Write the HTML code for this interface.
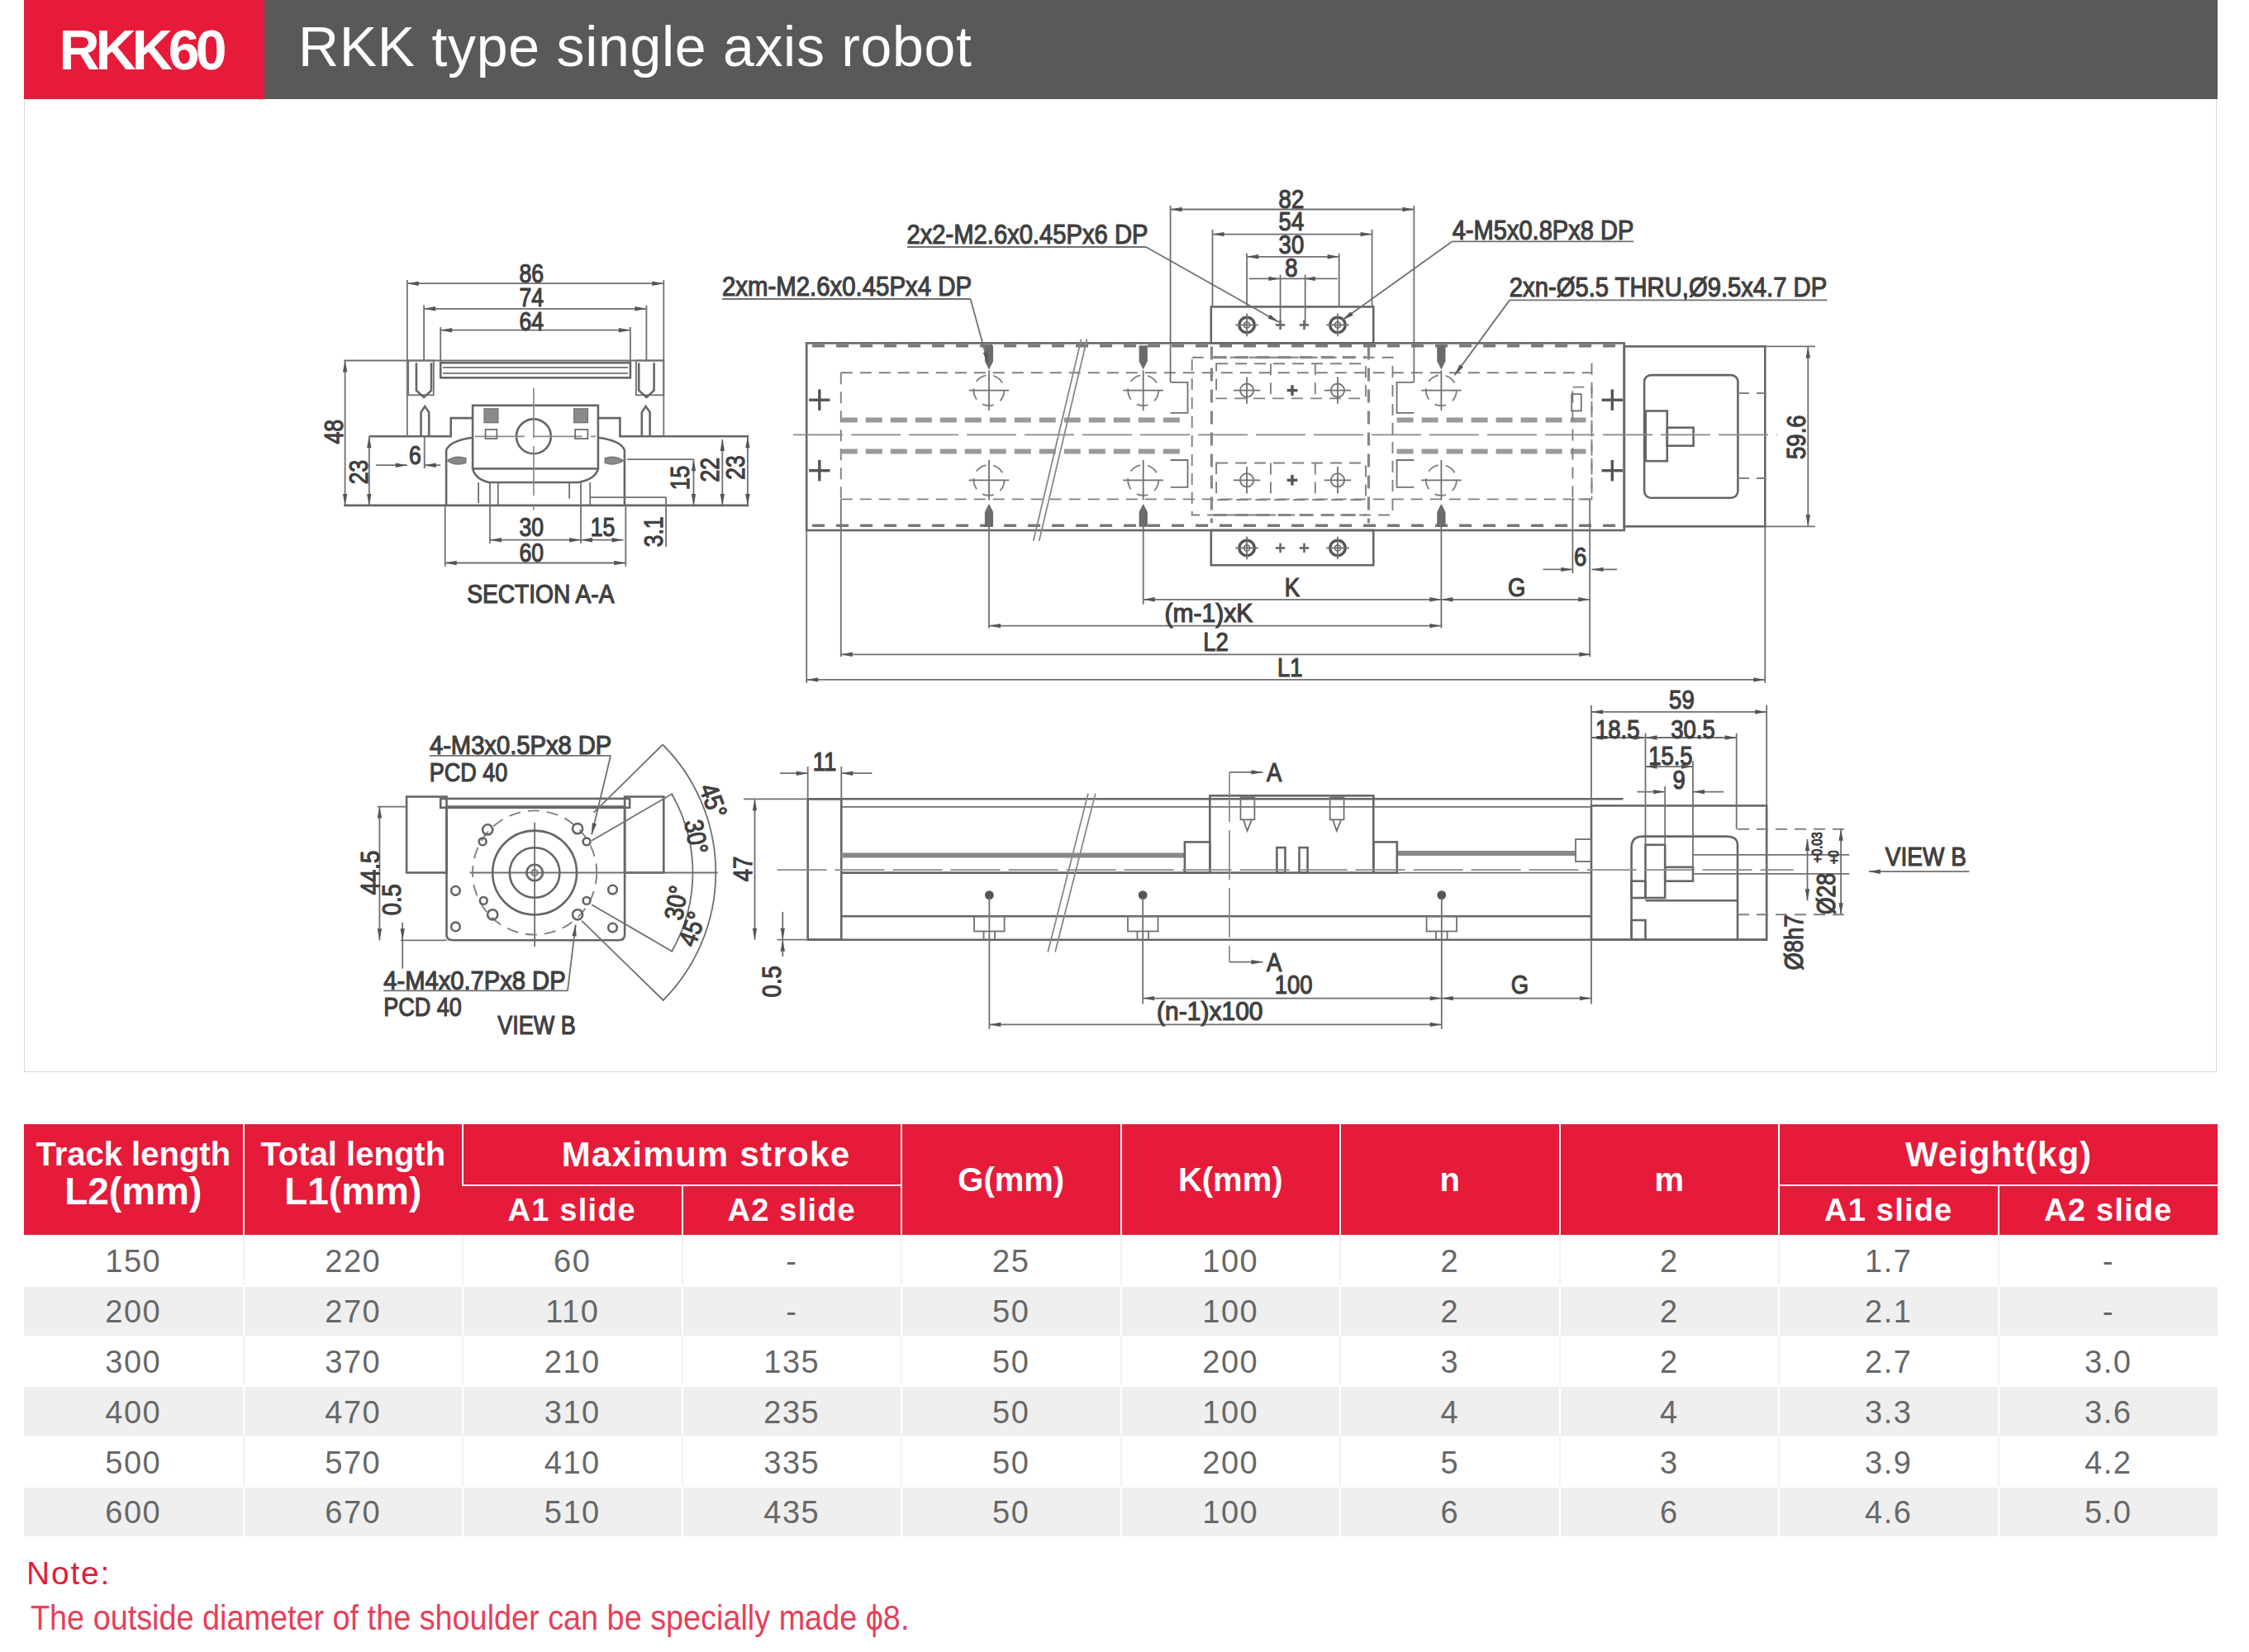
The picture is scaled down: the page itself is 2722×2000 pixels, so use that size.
<!DOCTYPE html>
<html><head><meta charset="utf-8">
<style>
html,body{margin:0;padding:0;background:#fff;}
body{width:2722px;height:2000px;position:relative;overflow:hidden;font-family:"Liberation Sans",sans-serif;}
.abs{position:absolute;}
#hdr-red{left:29px;top:0;width:291px;height:120px;background:#e61b3a;}
#hdr-gray{left:320px;top:0;width:2364px;height:120px;background:#5a5859;}
#t1{left:-4px;top:0;width:291px;height:120px;color:#fff;font-weight:bold;font-size:68px;line-height:120px;text-align:center;letter-spacing:-5px;}
#t2{left:41px;top:0;height:120px;color:#fff;font-size:68px;line-height:112px;white-space:nowrap;letter-spacing:0.7px;}
#panel{left:29px;top:120px;width:2652px;height:1177px;border:1px solid #d9d9d9;border-top:none;box-sizing:content-box;}
#drw{left:0;top:0;}
table{position:absolute;left:29px;top:1361px;border-collapse:collapse;table-layout:fixed;width:2655px;}
td,th{padding:0;text-align:center;}
th{background:#e61b3a;color:#fff;font-weight:bold;border-left:2px solid #fff;}
th:first-child{border-left:none;}
tr.h1 th{height:73px;font-size:40px;}
th.ms{font-size:42px !important;letter-spacing:1.3px;padding-left:58px !important;}
tr.h2 th{height:59px;font-size:38px;border-top:2px solid #fff;letter-spacing:1.2px;}
th.r2{line-height:40px;font-size:40px !important;letter-spacing:0 !important;padding-bottom:12px !important;}
td{height:60.8px;font-size:38px;color:#676767;letter-spacing:1.5px;padding-top:5px;box-sizing:border-box;border-left:2px solid #f2f2f2;}
td:first-child{border-left:none;}
tr.g td{background:#efefef;border-left-color:#fff;box-shadow:inset 0 2px 0 #fff;}
#note1{left:32px;top:1880px;font-size:39px;letter-spacing:1.8px;color:#e11d3a;line-height:50px;}
#note2{left:37px;top:1934px;font-size:42px;color:#e5405a;line-height:50px;white-space:nowrap;transform:scaleX(0.90);transform-origin:0 0;}
svg .m{stroke:#666;stroke-width:2.6;fill:none;}
svg .m3{stroke:#555;stroke-width:3.4;fill:none;}
svg .n{stroke:#707070;stroke-width:1.8;fill:none;}
svg .d{stroke:#808080;stroke-width:1.9;fill:none;stroke-dasharray:14 9;}
svg .dd{stroke:#888;stroke-width:3.2;fill:none;stroke-dasharray:16 10;}
svg .de{stroke:#777;stroke-width:3.6;fill:none;stroke-dasharray:15 14;}
svg .dr{stroke:#9a9a9a;stroke-width:6;fill:none;stroke-dasharray:20 10;}
svg .scr{stroke:#888;stroke-width:6;fill:none;}
svg .fillg{fill:#8a8a8a;stroke:#777;stroke-width:1.5;}
svg .brk{stroke:#888;stroke-width:1.8;fill:none;}
svg .pin{fill:#6a6a6a;stroke:#6a6a6a;stroke-width:1;}
svg .c{stroke:#8a8a8a;stroke-width:1.7;fill:none;stroke-dasharray:60 10;}
svg .ah{fill:#555;stroke:none;}
svg .tx{fill:#404040;stroke:#404040;stroke-width:1.2;font-family:"Liberation Sans",sans-serif;font-weight:normal;}
svg .dot{fill:#555;stroke:none;}
</style></head>
<body>
<div class="abs" id="hdr-red"><div class="abs" id="t1">RKK60</div></div>
<div class="abs" id="hdr-gray"><div class="abs" id="t2">RKK type single axis robot</div></div>
<div class="abs" id="panel"></div>
<svg class="abs" id="drw" width="2722" height="1300" viewBox="0 0 2722 1300">
<rect class="m" x="533.2" y="439.2" width="229.7" height="18.1"/>
<line class="n" x1="535.9" y1="444.8" x2="760.1" y2="444.8"/>
<line class="n" x1="535.9" y1="451.8" x2="760.1" y2="451.8"/>
<line class="n" x1="416.2" y1="436.5" x2="803.3" y2="436.5"/>
<rect class="n" x="494.2" y="436.5" width="30.6" height="41.8"/>
<path class="m" d="M503.9,439.2 L503.9,472.7 L513.1,481 L522,472.7 L522,439.2"/>
<rect class="n" x="769.9" y="436.5" width="33.4" height="41.8"/>
<path class="m" d="M773.2,439.2 L773.2,472.7 L782.4,481 L791.6,472.7 L791.6,439.2"/>
<path class="m" d="M509.5,528.3 L509.5,499.1 L514.2,492.1 L519.2,499.1 L519.2,528.3"/>
<path class="m" d="M776.8,528.3 L776.8,499.1 L781.6,492.1 L786.6,499.1 L786.6,528.3"/>
<path class="m" d="M446.8,528.3 L545.7,528.3 L545.7,506.1 L572.1,506.1"/>
<path class="m" d="M723.9,506.1 L750.4,506.1 L750.4,528.3 L906.3,528.3"/>
<rect class="m" x="572.1" y="490.8" width="151.8" height="76.6"/>
<path class="m" d="M 540.1,611.9 L 540.1,545.1 Q 544.3,533.4 572.1,529.7"/>
<path class="m" d="M 755.9,611.9 L 755.9,545.1 Q 751.8,533.4 723.9,529.7"/>
<path class="m" d="M 572.1,567.3 Q 574.9,579.9 591.6,584 L 700.2,584 Q 721.1,579.9 723.9,567.3"/>
<line class="n" x1="579.1" y1="584" x2="579.1" y2="609.1"/>
<line class="n" x1="602.8" y1="584" x2="602.8" y2="611.9"/>
<line class="n" x1="689.1" y1="584" x2="689.1" y2="603.5"/>
<line class="n" x1="714.2" y1="584" x2="714.2" y2="611.9"/>
<line class="n" x1="714.2" y1="602.1" x2="806.1" y2="602.1"/>
<line class="n" x1="758.7" y1="556.2" x2="839.5" y2="556.2"/>
<line class="m" x1="416.2" y1="611.9" x2="906.3" y2="611.9"/>
<circle class="m" cx="645.9" cy="528.3" r="20.9"/>
<line class="c" x1="645.9" y1="469.9" x2="645.9" y2="617.5"/>
<line class="c" x1="574.9" y1="528.3" x2="721.1" y2="528.3"/>
<rect class="fillg" x="586.1" y="494.9" width="16.7" height="16.7"/>
<rect class="n" x="587.5" y="520" width="13.9" height="11.1"/>
<rect class="fillg" x="694.7" y="494.9" width="16.7" height="16.7"/>
<rect class="n" x="696.1" y="520" width="15.3" height="11.1"/>
<path class="fillg" d="M 541.5,557.6 Q 551.3,550.6 563.8,554.8 L 563.8,560.4 Q 551.3,564.6 541.5,557.6"/>
<path class="fillg" d="M 754.5,557.6 Q 743.4,550.6 732.3,554.8 L 732.3,560.4 Q 743.4,564.6 754.5,557.6"/>
<line class="n" x1="492.8" y1="343.2" x2="803.3" y2="343.2"/>
<path class="ah" d="M492.8,343.2 L506.8,340.5 L506.8,345.9 Z"/>
<path class="ah" d="M803.3,343.2 L789.3,345.9 L789.3,340.5 Z"/>
<line class="n" x1="492.8" y1="339" x2="492.8" y2="528.3"/>
<line class="n" x1="803.3" y1="339" x2="803.3" y2="528.3"/>
<line class="n" x1="513.1" y1="373.8" x2="782.4" y2="373.8"/>
<path class="ah" d="M513.1,373.8 L527.1,371.1 L527.1,376.5 Z"/>
<path class="ah" d="M782.4,373.8 L768.4,376.5 L768.4,371.1 Z"/>
<line class="n" x1="513.1" y1="369.6" x2="513.1" y2="436.5"/>
<line class="n" x1="782.4" y1="369.6" x2="782.4" y2="436.5"/>
<line class="n" x1="533.2" y1="399.7" x2="762.9" y2="399.7"/>
<path class="ah" d="M533.2,399.7 L547.2,397 L547.2,402.4 Z"/>
<path class="ah" d="M762.9,399.7 L748.9,402.4 L748.9,397 Z"/>
<line class="n" x1="533.2" y1="396.1" x2="533.2" y2="439.2"/>
<line class="n" x1="762.9" y1="396.1" x2="762.9" y2="439.2"/>
<line class="n" x1="417.6" y1="436.5" x2="417.6" y2="611.9"/>
<path class="ah" d="M417.6,436.5 L420.3,450.5 L414.9,450.5 Z"/>
<path class="ah" d="M417.6,611.9 L414.9,597.9 L420.3,597.9 Z"/>
<line class="n" x1="446.8" y1="528.3" x2="446.8" y2="611.9"/>
<path class="ah" d="M446.8,528.3 L449.5,542.3 L444.1,542.3 Z"/>
<path class="ah" d="M446.8,611.9 L444.1,597.9 L449.5,597.9 Z"/>
<line class="n" x1="455.2" y1="563.2" x2="492.8" y2="563.2"/>
<path class="ah" d="M492.8,563.2 L478.8,565.9 L478.8,560.5 Z"/>
<line class="n" x1="533.2" y1="563.2" x2="513.7" y2="563.2"/>
<path class="ah" d="M513.7,563.2 L527.7,560.5 L527.7,565.9 Z"/>
<line class="n" x1="513.7" y1="528.3" x2="513.7" y2="567.3"/>
<line class="n" x1="839.5" y1="556.2" x2="839.5" y2="611.9"/>
<path class="ah" d="M839.5,556.2 L842.2,570.2 L836.8,570.2 Z"/>
<path class="ah" d="M839.5,611.9 L836.8,597.9 L842.2,597.9 Z"/>
<line class="n" x1="874.3" y1="532" x2="874.3" y2="611.9"/>
<path class="ah" d="M874.3,532 L877,546 L871.6,546 Z"/>
<path class="ah" d="M874.3,611.9 L871.6,597.9 L877,597.9 Z"/>
<line class="n" x1="904.9" y1="528.3" x2="904.9" y2="611.9"/>
<path class="ah" d="M904.9,528.3 L907.6,542.3 L902.2,542.3 Z"/>
<path class="ah" d="M904.9,611.9 L902.2,597.9 L907.6,597.9 Z"/>
<line class="n" x1="806.1" y1="602.1" x2="806.1" y2="662"/>
<line class="n" x1="593" y1="653.7" x2="703" y2="653.7"/>
<path class="ah" d="M593,653.7 L607,651 L607,656.4 Z"/>
<path class="ah" d="M703,653.7 L689,656.4 L689,651 Z"/>
<line class="n" x1="593" y1="584" x2="593" y2="657.8"/>
<line class="n" x1="703" y1="584" x2="703" y2="657.8"/>
<line class="n" x1="703" y1="653.7" x2="754.5" y2="653.7"/>
<path class="ah" d="M703,653.7 L717,651 L717,656.4 Z"/>
<path class="ah" d="M754.5,653.7 L740.5,656.4 L740.5,651 Z"/>
<line class="n" x1="538.7" y1="681.5" x2="757.3" y2="681.5"/>
<path class="ah" d="M538.7,681.5 L552.7,678.8 L552.7,684.2 Z"/>
<path class="ah" d="M757.3,681.5 L743.3,684.2 L743.3,678.8 Z"/>
<line class="n" x1="538.7" y1="611.9" x2="538.7" y2="685.7"/>
<line class="n" x1="757.3" y1="611.9" x2="757.3" y2="685.7"/>
<text class="tx" x="0" y="11" font-size="30.5" text-anchor="middle" transform="translate(643.2 330.6) scale(0.87 1)">86</text>
<text class="tx" x="0" y="11" font-size="30.5" text-anchor="middle" transform="translate(643.2 359.9) scale(0.87 1)">74</text>
<text class="tx" x="0" y="11" font-size="30.5" text-anchor="middle" transform="translate(643.2 388.6) scale(0.87 1)">64</text>
<text class="tx" x="0" y="11" font-size="30.5" text-anchor="middle" transform="translate(643.2 638.3) scale(0.87 1)">30</text>
<text class="tx" x="0" y="11" font-size="30.5" text-anchor="middle" transform="translate(729.5 638.3) scale(0.87 1)">15</text>
<text class="tx" x="0" y="11" font-size="30.5" text-anchor="middle" transform="translate(643.2 669) scale(0.87 1)">60</text>
<text class="tx" x="0" y="11" font-size="30.5" text-anchor="middle" transform="translate(502.5 550.6) scale(0.87 1)">6</text>
<text class="tx" x="0" y="11" font-size="30.5" text-anchor="middle" transform="translate(403.7 522.8) rotate(-90) scale(0.87 1)">48</text>
<text class="tx" x="0" y="11" font-size="30.5" text-anchor="middle" transform="translate(434.3 571.5) rotate(-90) scale(0.87 1)">23</text>
<text class="tx" x="0" y="11" font-size="30.5" text-anchor="middle" transform="translate(822.8 578.5) rotate(-90) scale(0.87 1)">15</text>
<text class="tx" x="0" y="11" font-size="30.5" text-anchor="middle" transform="translate(859 568.7) rotate(-90) scale(0.87 1)">22</text>
<text class="tx" x="0" y="11" font-size="30.5" text-anchor="middle" transform="translate(889.6 565.9) rotate(-90) scale(0.87 1)">23</text>
<text class="tx" x="0" y="11" font-size="30.5" text-anchor="middle" transform="translate(790.7 643.9) rotate(-90) scale(0.87 1)">3.1</text>
<text class="tx" x="0" y="11" font-size="30.5" text-anchor="middle" textLength="178.2" lengthAdjust="spacingAndGlyphs" transform="translate(654.3 719.1)">SECTION A-A</text>
<rect class="m" x="976.2" y="415.4" width="989.6" height="226.6"/>
<rect class="m" x="1965.8" y="419.4" width="170.5" height="217.9"/>
<rect class="m" x="1990.1" y="454.1" width="113.3" height="148.6" rx="8.1"/>
<rect class="m" x="1991.8" y="497.5" width="26" height="60.7"/>
<rect class="m" x="2017.8" y="517.7" width="31.8" height="22"/>
<line class="d" x1="2103" y1="476" x2="2138" y2="476"/>
<line class="d" x1="2103" y1="579" x2="2138" y2="579"/>
<rect class="m" x="1465.8" y="371.4" width="196.5" height="43.9"/>
<rect class="m" x="1465.8" y="642" width="196.5" height="42.2"/>
<circle class="m3" cx="1509.1" cy="393.4" r="9.2"/>
<circle class="n" cx="1509.1" cy="393.4" r="3.5"/>
<line class="n" x1="1495.3" y1="393.4" x2="1523" y2="393.4"/>
<line class="n" x1="1509.1" y1="379.5" x2="1509.1" y2="407.3"/>
<circle class="m3" cx="1619" cy="393.4" r="9.2"/>
<circle class="n" cx="1619" cy="393.4" r="3.5"/>
<line class="n" x1="1605.1" y1="393.4" x2="1632.8" y2="393.4"/>
<line class="n" x1="1619" y1="379.5" x2="1619" y2="407.3"/>
<circle class="m3" cx="1509.1" cy="663.4" r="9.2"/>
<circle class="n" cx="1509.1" cy="663.4" r="3.5"/>
<line class="n" x1="1495.3" y1="663.4" x2="1523" y2="663.4"/>
<line class="n" x1="1509.1" y1="649.5" x2="1509.1" y2="677.2"/>
<circle class="m3" cx="1619" cy="663.4" r="9.2"/>
<circle class="n" cx="1619" cy="663.4" r="3.5"/>
<line class="n" x1="1605.1" y1="663.4" x2="1632.8" y2="663.4"/>
<line class="n" x1="1619" y1="649.5" x2="1619" y2="677.2"/>
<line class="m" x1="1543.8" y1="393.4" x2="1555.4" y2="393.4"/>
<line class="m" x1="1549.6" y1="387.6" x2="1549.6" y2="399.2"/>
<line class="m" x1="1572.7" y1="393.4" x2="1584.3" y2="393.4"/>
<line class="m" x1="1578.5" y1="387.6" x2="1578.5" y2="399.2"/>
<line class="m" x1="1543.8" y1="663.4" x2="1555.4" y2="663.4"/>
<line class="m" x1="1549.6" y1="657.6" x2="1549.6" y2="669.1"/>
<line class="m" x1="1572.7" y1="663.4" x2="1584.3" y2="663.4"/>
<line class="m" x1="1578.5" y1="657.6" x2="1578.5" y2="669.1"/>
<line class="d" x1="1017.8" y1="451.2" x2="1926.5" y2="451.2"/>
<line class="d" x1="1017.8" y1="604.4" x2="1926.5" y2="604.4"/>
<line class="d" x1="1017.8" y1="451.2" x2="1017.8" y2="604.4"/>
<line class="d" x1="1926.5" y1="439.7" x2="1926.5" y2="604.4"/>
<line class="dr" x1="1017.8" y1="508.4" x2="1437.5" y2="508.4"/>
<line class="dr" x1="1017.8" y1="546.6" x2="1437.5" y2="546.6"/>
<line class="dr" x1="1690.6" y1="508.4" x2="1919.5" y2="508.4"/>
<line class="dr" x1="1690.6" y1="546.6" x2="1919.5" y2="546.6"/>
<line class="de" x1="983.1" y1="418.8" x2="1962.9" y2="418.8"/>
<line class="de" x1="983.1" y1="636.2" x2="1962.9" y2="636.2"/>
<rect class="d" x="1442.7" y="432.7" width="242.8" height="190.8"/>
<line class="dd" x1="1466.4" y1="419.4" x2="1466.4" y2="633.3"/>
<line class="dd" x1="1656.5" y1="419.4" x2="1656.5" y2="633.3"/>
<line class="dd" x1="1468.7" y1="432.7" x2="1653.6" y2="432.7"/>
<line class="dd" x1="1468.7" y1="623.5" x2="1653.6" y2="623.5"/>
<rect class="d" x="1472.1" y="440.2" width="180.9" height="42.2"/>
<rect class="d" x="1472.1" y="560.5" width="180.9" height="44.5"/>
<line class="d" x1="1538" y1="440.2" x2="1538" y2="482.4"/>
<line class="d" x1="1591.8" y1="440.2" x2="1591.8" y2="482.4"/>
<line class="d" x1="1538" y1="560.5" x2="1538" y2="605"/>
<line class="d" x1="1591.8" y1="560.5" x2="1591.8" y2="605"/>
<line class="c" x1="960" y1="526.4" x2="2150.8" y2="526.4"/>
<circle class="d" cx="1197" cy="472.6" r="18.5"/>
<line class="n" x1="1172.7" y1="472.6" x2="1221.3" y2="472.6"/>
<line class="n" x1="1197" y1="448.3" x2="1197" y2="496.9"/>
<circle class="d" cx="1197" cy="581.3" r="18.5"/>
<line class="n" x1="1172.7" y1="581.3" x2="1221.3" y2="581.3"/>
<line class="n" x1="1197" y1="557" x2="1197" y2="605.5"/>
<circle class="d" cx="1383.7" cy="472.6" r="18.5"/>
<line class="n" x1="1359.4" y1="472.6" x2="1408" y2="472.6"/>
<line class="n" x1="1383.7" y1="448.3" x2="1383.7" y2="496.9"/>
<circle class="d" cx="1383.7" cy="581.3" r="18.5"/>
<line class="n" x1="1359.4" y1="581.3" x2="1408" y2="581.3"/>
<line class="n" x1="1383.7" y1="557" x2="1383.7" y2="605.5"/>
<circle class="d" cx="1744.4" cy="472.6" r="18.5"/>
<line class="n" x1="1720.1" y1="472.6" x2="1768.7" y2="472.6"/>
<line class="n" x1="1744.4" y1="448.3" x2="1744.4" y2="496.9"/>
<circle class="d" cx="1744.4" cy="581.3" r="18.5"/>
<line class="n" x1="1720.1" y1="581.3" x2="1768.7" y2="581.3"/>
<line class="n" x1="1744.4" y1="557" x2="1744.4" y2="605.5"/>
<circle class="n" cx="1509.1" cy="472.6" r="8.1"/>
<line class="n" x1="1492.9" y1="472.6" x2="1525.3" y2="472.6"/>
<line class="n" x1="1509.1" y1="456.4" x2="1509.1" y2="488.8"/>
<circle class="n" cx="1619" cy="472.6" r="8.1"/>
<line class="n" x1="1602.8" y1="472.6" x2="1635.1" y2="472.6"/>
<line class="n" x1="1619" y1="456.4" x2="1619" y2="488.8"/>
<circle class="n" cx="1509.1" cy="581.3" r="8.1"/>
<line class="n" x1="1492.9" y1="581.3" x2="1525.3" y2="581.3"/>
<line class="n" x1="1509.1" y1="565.1" x2="1509.1" y2="597.5"/>
<circle class="n" cx="1619" cy="581.3" r="8.1"/>
<line class="n" x1="1602.8" y1="581.3" x2="1635.1" y2="581.3"/>
<line class="n" x1="1619" y1="565.1" x2="1619" y2="597.5"/>
<line class="m3" x1="1557.7" y1="472.6" x2="1570.4" y2="472.6"/>
<line class="m3" x1="1564" y1="466.2" x2="1564" y2="479"/>
<line class="m3" x1="1557.7" y1="581.3" x2="1570.4" y2="581.3"/>
<line class="m3" x1="1564" y1="574.9" x2="1564" y2="587.6"/>
<line class="m3" x1="979.1" y1="484.2" x2="1004.5" y2="484.2"/>
<line class="m3" x1="991.8" y1="471.4" x2="991.8" y2="496.9"/>
<line class="m3" x1="979.1" y1="569.7" x2="1004.5" y2="569.7"/>
<line class="m3" x1="991.8" y1="557" x2="991.8" y2="582.4"/>
<line class="m3" x1="1938.6" y1="484.2" x2="1964" y2="484.2"/>
<line class="m3" x1="1951.3" y1="471.4" x2="1951.3" y2="496.9"/>
<line class="m3" x1="1938.6" y1="569.7" x2="1964" y2="569.7"/>
<line class="m3" x1="1951.3" y1="557" x2="1951.3" y2="582.4"/>
<line class="brk" x1="1308.6" y1="410.8" x2="1250.8" y2="654.7"/>
<line class="brk" x1="1315.5" y1="410.8" x2="1257.7" y2="654.7"/>
<path class="pin" d="M1192.4,418.8 L1201.6,418.8 L1201.6,437.3 L1197,446.6 L1192.4,437.3 Z"/>
<path class="pin" d="M1192.4,637.3 L1201.6,637.3 L1201.6,620 L1197,610.8 L1192.4,620 Z"/>
<path class="pin" d="M1379.1,418.8 L1388.3,418.8 L1388.3,437.3 L1383.7,446.6 L1379.1,437.3 Z"/>
<path class="pin" d="M1379.1,637.3 L1388.3,637.3 L1388.3,620 L1383.7,610.8 L1379.1,620 Z"/>
<path class="pin" d="M1739.8,418.8 L1749,418.8 L1749,437.3 L1744.4,446.6 L1739.8,437.3 Z"/>
<path class="pin" d="M1739.8,637.3 L1749,637.3 L1749,620 L1744.4,610.8 L1739.8,620 Z"/>
<rect class="d" x="1903.4" y="468.6" width="23.1" height="135.8"/>
<rect class="n" x="1902.2" y="477.2" width="11.6" height="20.2"/>
<path class="n" d="M1416.6,462.8 L1437.5,462.8 L1437.5,499.8 L1416.6,499.8"/>
<path class="n" d="M1711.4,462.8 L1690.6,462.8 L1690.6,499.8 L1711.4,499.8"/>
<path class="n" d="M1416.6,557 L1437.5,557 L1437.5,589.9 L1416.6,589.9"/>
<path class="n" d="M1711.4,557 L1690.6,557 L1690.6,589.9 L1711.4,589.9"/>
<line class="n" x1="1416.6" y1="253.5" x2="1711.4" y2="253.5"/>
<path class="ah" d="M1416.6,253.5 L1430.6,250.8 L1430.6,256.2 Z"/>
<path class="ah" d="M1711.4,253.5 L1697.4,256.2 L1697.4,250.8 Z"/>
<line class="n" x1="1416.6" y1="248.9" x2="1416.6" y2="462.8"/>
<line class="n" x1="1711.4" y1="248.9" x2="1711.4" y2="462.8"/>
<line class="n" x1="1467.5" y1="283.6" x2="1660.6" y2="283.6"/>
<path class="ah" d="M1467.5,283.6 L1481.5,280.9 L1481.5,286.3 Z"/>
<path class="ah" d="M1660.6,283.6 L1646.6,286.3 L1646.6,280.9 Z"/>
<line class="n" x1="1467.5" y1="277.8" x2="1467.5" y2="371.4"/>
<line class="n" x1="1660.6" y1="277.8" x2="1660.6" y2="371.4"/>
<line class="n" x1="1509.1" y1="310.8" x2="1620.7" y2="310.8"/>
<path class="ah" d="M1509.1,310.8 L1523.1,308.1 L1523.1,313.5 Z"/>
<path class="ah" d="M1620.7,310.8 L1606.7,313.5 L1606.7,308.1 Z"/>
<line class="n" x1="1509.1" y1="306.7" x2="1509.1" y2="371.4"/>
<line class="n" x1="1620.7" y1="306.7" x2="1620.7" y2="371.4"/>
<line class="n" x1="1512" y1="337.4" x2="1618.8" y2="337.4"/>
<path class="ah" d="M1549.4,337.4 L1535.4,340.1 L1535.4,334.7 Z"/>
<path class="ah" d="M1577.9,337.4 L1591.9,334.7 L1591.9,340.1 Z"/>
<line class="n" x1="1549.6" y1="332.7" x2="1549.6" y2="393.4"/>
<line class="n" x1="1579.7" y1="332.7" x2="1579.7" y2="393.4"/>
<text class="tx" x="0" y="11.4" font-size="31.6" text-anchor="middle" transform="translate(1562.9 240.2) scale(0.87 1)">82</text>
<text class="tx" x="0" y="11.4" font-size="31.6" text-anchor="middle" transform="translate(1562.9 267.4) scale(0.87 1)">54</text>
<text class="tx" x="0" y="11.4" font-size="31.6" text-anchor="middle" transform="translate(1562.9 295.1) scale(0.87 1)">30</text>
<text class="tx" x="0" y="11.4" font-size="31.6" text-anchor="middle" transform="translate(1562.9 324) scale(0.87 1)">8</text>
<text class="tx" x="0" y="11.8" font-size="32.8" text-anchor="middle" textLength="292" lengthAdjust="spacingAndGlyphs" transform="translate(1243.5 283)">2x2-M2.6x0.45Px6 DP</text>
<line class="n" x1="1098" y1="299" x2="1387" y2="299"/>
<line class="n" x1="1387" y1="299" x2="1548" y2="390"/>
<path class="ah" d="M1548,390 L1534.5,385.5 L1537.1,380.8 Z"/>
<text class="tx" x="0" y="11.8" font-size="32.8" text-anchor="middle" textLength="219.7" lengthAdjust="spacingAndGlyphs" transform="translate(1867.5 277.8)">4-M5x0.8Px8 DP</text>
<line class="n" x1="1757.7" y1="292.3" x2="1977.3" y2="292.3"/>
<line class="n" x1="1757.7" y1="292.3" x2="1624.7" y2="387.6"/>
<path class="ah" d="M1624.7,387.6 L1634.5,377.3 L1637.7,381.7 Z"/>
<text class="tx" x="0" y="11.8" font-size="32.8" text-anchor="middle" textLength="384.4" lengthAdjust="spacingAndGlyphs" transform="translate(2019 347.2)">2xn-Ø5.5 THRU,Ø9.5x4.7 DP</text>
<line class="n" x1="1827.1" y1="363.4" x2="2211.4" y2="363.4"/>
<line class="n" x1="1827.1" y1="363.4" x2="1760.6" y2="454.1"/>
<path class="ah" d="M1760.6,454.1 L1766.7,441.2 L1771,444.4 Z"/>
<text class="tx" x="0" y="11.8" font-size="32.8" text-anchor="middle" textLength="302" lengthAdjust="spacingAndGlyphs" transform="translate(1025 346)">2xm-M2.6x0.45Px4 DP</text>
<line class="n" x1="874" y1="362" x2="1174.6" y2="362"/>
<line class="n" x1="1174.6" y1="362" x2="1196" y2="440"/>
<path class="ah" d="M1196,440 L1189.7,427.2 L1194.9,425.8 Z"/>
<line class="n" x1="1867.5" y1="689.4" x2="1903.4" y2="689.4"/>
<path class="ah" d="M1903.4,689.4 L1889.4,692.1 L1889.4,686.7 Z"/>
<line class="n" x1="1957.1" y1="689.4" x2="1926.5" y2="689.4"/>
<path class="ah" d="M1926.5,689.4 L1940.5,686.7 L1940.5,692.1 Z"/>
<line class="n" x1="1903.4" y1="604.4" x2="1903.4" y2="694"/>
<text class="tx" x="0" y="11.4" font-size="31.6" text-anchor="middle" transform="translate(1912.6 673.8) scale(0.87 1)">6</text>
<line class="n" x1="1383.7" y1="725.8" x2="1744.4" y2="725.8"/>
<path class="ah" d="M1383.7,725.8 L1397.7,723.1 L1397.7,728.5 Z"/>
<path class="ah" d="M1744.4,725.8 L1730.4,728.5 L1730.4,723.1 Z"/>
<text class="tx" x="0" y="11.4" font-size="31.6" text-anchor="middle" transform="translate(1564 710.2) scale(0.87 1)">K</text>
<line class="n" x1="1744.4" y1="725.8" x2="1924.2" y2="725.8"/>
<path class="ah" d="M1744.4,725.8 L1758.4,723.1 L1758.4,728.5 Z"/>
<path class="ah" d="M1924.2,725.8 L1910.2,728.5 L1910.2,723.1 Z"/>
<text class="tx" x="0" y="11.4" font-size="31.6" text-anchor="middle" transform="translate(1835.7 710.2) scale(0.87 1)">G</text>
<line class="n" x1="1383.7" y1="613.1" x2="1383.7" y2="731.6"/>
<line class="n" x1="1744.4" y1="613.1" x2="1744.4" y2="760.5"/>
<line class="n" x1="1924.2" y1="604.4" x2="1924.2" y2="795.1"/>
<line class="n" x1="1197" y1="613.1" x2="1197" y2="760.5"/>
<line class="n" x1="1017.8" y1="604.4" x2="1017.8" y2="795.1"/>
<line class="n" x1="976.2" y1="642" x2="976.2" y2="826.9"/>
<line class="n" x1="2136.3" y1="637.3" x2="2136.3" y2="826.9"/>
<line class="n" x1="1197" y1="757.6" x2="1744.4" y2="757.6"/>
<path class="ah" d="M1197,757.6 L1211,754.9 L1211,760.3 Z"/>
<path class="ah" d="M1744.4,757.6 L1730.4,760.3 L1730.4,754.9 Z"/>
<text class="tx" x="0" y="11.4" font-size="31.6" text-anchor="middle" textLength="106.9" lengthAdjust="spacingAndGlyphs" transform="translate(1462.9 742)">(m-1)xK</text>
<line class="n" x1="1017.8" y1="792.3" x2="1925.3" y2="792.3"/>
<path class="ah" d="M1017.8,792.3 L1031.8,789.6 L1031.8,795 Z"/>
<path class="ah" d="M1925.3,792.3 L1911.3,795 L1911.3,789.6 Z"/>
<text class="tx" x="0" y="11.4" font-size="31.6" text-anchor="middle" transform="translate(1471.6 776.6) scale(0.87 1)">L2</text>
<line class="n" x1="976.2" y1="822.9" x2="2136.3" y2="822.9"/>
<path class="ah" d="M976.2,822.9 L990.2,820.2 L990.2,825.6 Z"/>
<path class="ah" d="M2136.3,822.9 L2122.3,825.6 L2122.3,820.2 Z"/>
<text class="tx" x="0" y="11.4" font-size="31.6" text-anchor="middle" transform="translate(1561.2 807.9) scale(0.87 1)">L1</text>
<line class="n" x1="2188.3" y1="419.4" x2="2188.3" y2="637.3"/>
<path class="ah" d="M2188.3,419.4 L2191,433.4 L2185.6,433.4 Z"/>
<path class="ah" d="M2188.3,637.3 L2185.6,623.3 L2191,623.3 Z"/>
<line class="n" x1="2136.3" y1="419.4" x2="2197" y2="419.4"/>
<line class="n" x1="2136.3" y1="637.3" x2="2197" y2="637.3"/>
<text class="tx" x="0" y="11.4" font-size="31.6" text-anchor="middle" transform="translate(2173.9 529.2) rotate(-90) scale(0.87 1)">59.6</text>
<rect class="m" x="977.7" y="967.3" width="40.6" height="170.3"/>
<line class="m" x1="977.7" y1="967.3" x2="1964.5" y2="967.3"/>
<line class="n" x1="1018.3" y1="976.8" x2="1926" y2="976.8"/>
<line class="m" x1="1018.3" y1="1109.3" x2="1926" y2="1109.3"/>
<line class="m" x1="977.7" y1="1137.7" x2="2138.2" y2="1137.7"/>
<rect class="m" x="1464.3" y="963.3" width="198" height="93.3"/>
<rect class="m" x="1926" y="975.4" width="212.2" height="162.2"/>
<line class="scr" x1="1018" y1="1035.5" x2="1435" y2="1035.5"/>
<line class="m" x1="1018.3" y1="1056.6" x2="1464.3" y2="1056.6"/>
<line class="scr" x1="1690.8" y1="1032.9" x2="1907" y2="1032.9"/>
<line class="n" x1="1662.4" y1="1056.6" x2="1926" y2="1056.6"/>
<rect class="m" x="1433.9" y="1019.4" width="30.4" height="37.2"/>
<rect class="m" x="1662.4" y="1019.4" width="28.4" height="37.2"/>
<rect class="n" x="1907" y="1016" width="18.9" height="27"/>
<path class="m" d="M 2103,1137.7 L 2103,1022.8 Q 2103,1012.6 2089.5,1012.6 L 1988.1,1012.6 Q 1974.6,1012.6 1974.6,1026.1 L 1974.6,1137.7"/>
<rect class="m" x="1991.5" y="1022.8" width="23.7" height="64.2"/>
<rect class="m" x="2015.2" y="1049.8" width="33.8" height="16.9"/>
<rect class="m" x="1974.6" y="1066.7" width="16.9" height="20.3"/>
<rect class="m" x="1974.6" y="1114" width="16.9" height="23.7"/>
<line class="m" x1="1991.5" y1="1090.3" x2="2103" y2="1090.3"/>
<line class="n" x1="2049" y1="1034.9" x2="2238.2" y2="1034.9"/>
<line class="n" x1="2049" y1="1057.9" x2="2238.2" y2="1057.9"/>
<rect class="n" x="1501.5" y="965.3" width="16.9" height="27"/>
<rect class="n" x="1609.7" y="965.3" width="16.9" height="27"/>
<path class="n" d="M1504.9,992.3 L1509.6,1005.9 L1515,992.3"/>
<path class="n" d="M1613,992.3 L1617.8,1005.9 L1623.2,992.3"/>
<rect class="m" x="1545.4" y="1026.1" width="10.1" height="30.4"/>
<rect class="m" x="1572.5" y="1026.1" width="10.1" height="30.4"/>
<circle class="dot" cx="1197.4" cy="1083.6" r="5.4"/>
<rect class="n" x="1179.1" y="1109.3" width="36.5" height="18.2"/>
<line class="n" x1="1190.6" y1="1127.5" x2="1190.6" y2="1137.7"/>
<line class="n" x1="1204.1" y1="1127.5" x2="1204.1" y2="1137.7"/>
<circle class="dot" cx="1383.2" cy="1083.6" r="5.4"/>
<rect class="n" x="1365" y="1109.3" width="36.5" height="18.2"/>
<line class="n" x1="1376.5" y1="1127.5" x2="1376.5" y2="1137.7"/>
<line class="n" x1="1390" y1="1127.5" x2="1390" y2="1137.7"/>
<circle class="dot" cx="1744.8" cy="1083.6" r="5.4"/>
<rect class="n" x="1726.6" y="1109.3" width="36.5" height="18.2"/>
<line class="n" x1="1738.1" y1="1127.5" x2="1738.1" y2="1137.7"/>
<line class="n" x1="1751.6" y1="1127.5" x2="1751.6" y2="1137.7"/>
<line class="brk" x1="1317" y1="960.6" x2="1268.3" y2="1152.5"/>
<line class="brk" x1="1325.8" y1="960.6" x2="1277.1" y2="1152.5"/>
<line class="c" x1="940.6" y1="1053.2" x2="2170.6" y2="1053.2"/>
<line class="c" x1="1488" y1="934.9" x2="1488" y2="1164.7"/>
<line class="n" x1="1488" y1="934.9" x2="1528.5" y2="934.9"/>
<path class="ah" d="M1528.5,934.9 L1514.5,937.6 L1514.5,932.2 Z"/>
<line class="n" x1="1488" y1="1164.7" x2="1528.5" y2="1164.7"/>
<path class="ah" d="M1528.5,1164.7 L1514.5,1167.4 L1514.5,1162 Z"/>
<text class="tx" x="0" y="11.4" font-size="31.6" text-anchor="middle" transform="translate(1542.1 934.9) scale(0.87 1)">A</text>
<text class="tx" x="0" y="11.4" font-size="31.6" text-anchor="middle" transform="translate(1542.1 1164.7) scale(0.87 1)">A</text>
<line class="n" x1="913.5" y1="967.3" x2="913.5" y2="1137.7"/>
<path class="ah" d="M913.5,967.3 L916.2,981.3 L910.8,981.3 Z"/>
<path class="ah" d="M913.5,1137.7 L910.8,1123.7 L916.2,1123.7 Z"/>
<line class="n" x1="900" y1="967.3" x2="977.7" y2="967.3"/>
<line class="n" x1="940.6" y1="1137.7" x2="977.7" y2="1137.7"/>
<text class="tx" x="0" y="11.4" font-size="31.6" text-anchor="middle" transform="translate(899 1052) rotate(-90) scale(0.87 1)">47</text>
<line class="n" x1="947.3" y1="1103.9" x2="947.3" y2="1137.7"/>
<path class="ah" d="M947.3,1137.7 L944.6,1123.7 L950,1123.7 Z"/>
<line class="n" x1="947.3" y1="1157.9" x2="947.3" y2="1137.7"/>
<path class="ah" d="M947.3,1137.7 L950,1151.7 L944.6,1151.7 Z"/>
<text class="tx" x="0" y="11.4" font-size="31.6" text-anchor="middle" transform="translate(933.8 1188.3) rotate(-90) scale(0.87 1)">0.5</text>
<line class="n" x1="943.9" y1="936.2" x2="977.7" y2="936.2"/>
<path class="ah" d="M977.7,936.2 L963.7,938.9 L963.7,933.5 Z"/>
<line class="n" x1="1055.4" y1="936.2" x2="1018.3" y2="936.2"/>
<path class="ah" d="M1018.3,936.2 L1032.3,933.5 L1032.3,938.9 Z"/>
<line class="n" x1="977.7" y1="928.1" x2="977.7" y2="967.3"/>
<line class="n" x1="1018.3" y1="928.1" x2="1018.3" y2="967.3"/>
<text class="tx" x="0" y="11.4" font-size="31.6" text-anchor="middle" transform="translate(998 921.4) scale(0.87 1)">11</text>
<line class="n" x1="1926" y1="861.9" x2="2138.2" y2="861.9"/>
<path class="ah" d="M1926,861.9 L1940,859.2 L1940,864.6 Z"/>
<path class="ah" d="M2138.2,861.9 L2124.2,864.6 L2124.2,859.2 Z"/>
<line class="n" x1="1926" y1="853.8" x2="1926" y2="975.4"/>
<line class="n" x1="2138.2" y1="853.8" x2="2138.2" y2="975.4"/>
<text class="tx" x="0" y="11.4" font-size="31.6" text-anchor="middle" transform="translate(2035.4 847) scale(0.87 1)">59</text>
<line class="n" x1="1926" y1="893" x2="1991.5" y2="893"/>
<path class="ah" d="M1926,893 L1940,890.3 L1940,895.7 Z"/>
<path class="ah" d="M1991.5,893 L1977.5,895.7 L1977.5,890.3 Z"/>
<text class="tx" x="0" y="11.4" font-size="31.6" text-anchor="middle" transform="translate(1957.7 882.2) scale(0.87 1)">18.5</text>
<line class="n" x1="1991.5" y1="893" x2="2101.7" y2="893"/>
<path class="ah" d="M1991.5,893 L2005.5,890.3 L2005.5,895.7 Z"/>
<path class="ah" d="M2101.7,893 L2087.7,895.7 L2087.7,890.3 Z"/>
<text class="tx" x="0" y="11.4" font-size="31.6" text-anchor="middle" transform="translate(2049 882.2) scale(0.87 1)">30.5</text>
<line class="n" x1="2101.7" y1="887.6" x2="2101.7" y2="1003.8"/>
<line class="n" x1="1991.5" y1="887.6" x2="1991.5" y2="1022.8"/>
<line class="n" x1="1991.5" y1="928.1" x2="2049" y2="928.1"/>
<path class="ah" d="M1991.5,928.1 L2005.5,925.4 L2005.5,930.8 Z"/>
<path class="ah" d="M2049,928.1 L2035,930.8 L2035,925.4 Z"/>
<text class="tx" x="0" y="11.4" font-size="31.6" text-anchor="middle" transform="translate(2021.9 914.6) scale(0.87 1)">15.5</text>
<line class="n" x1="2049" y1="921.4" x2="2049" y2="1066.7"/>
<line class="n" x1="1981.4" y1="958.6" x2="2015.2" y2="958.6"/>
<path class="ah" d="M2015.2,958.6 L2001.2,961.3 L2001.2,955.9 Z"/>
<line class="n" x1="2086.1" y1="958.6" x2="2049" y2="958.6"/>
<path class="ah" d="M2049,958.6 L2063,955.9 L2063,961.3 Z"/>
<text class="tx" x="0" y="11.4" font-size="31.6" text-anchor="middle" transform="translate(2032.1 943.7) scale(0.87 1)">9</text>
<line class="n" x1="2015.2" y1="951.8" x2="2015.2" y2="1022.8"/>
<line class="n" x1="2228.1" y1="1003.8" x2="2228.1" y2="1107.2"/>
<path class="ah" d="M2228.1,1003.8 L2230.8,1017.8 L2225.4,1017.8 Z"/>
<path class="ah" d="M2228.1,1107.2 L2225.4,1093.2 L2230.8,1093.2 Z"/>
<line class="d" x1="2103" y1="1003.8" x2="2238.2" y2="1003.8"/>
<line class="d" x1="2103" y1="1107.2" x2="2238.2" y2="1107.2"/>
<text class="tx" x="0" y="11" font-size="30.5" text-anchor="middle" transform="translate(2210 1082) rotate(-90) scale(0.87 1)">Ø28</text>
<text class="tx" x="0" y="6.1" font-size="16.9" text-anchor="middle" transform="translate(2199 1026) rotate(-90) scale(0.87 1)">+0.03</text>
<text class="tx" x="0" y="6.1" font-size="16.9" text-anchor="middle" transform="translate(2219 1038) rotate(-90) scale(0.87 1)">+0</text>
<line class="n" x1="2187.5" y1="1016" x2="2187.5" y2="1090.3"/>
<path class="ah" d="M2187.5,1016 L2190.2,1030 L2184.8,1030 Z"/>
<path class="ah" d="M2187.5,1090.3 L2184.8,1076.3 L2190.2,1076.3 Z"/>
<text class="tx" x="0" y="11.4" font-size="31.6" text-anchor="middle" transform="translate(2170.6 1141) rotate(-90) scale(0.87 1)">Ø8h7</text>
<text class="tx" x="0" y="11.4" font-size="31.6" text-anchor="middle" textLength="98" lengthAdjust="spacingAndGlyphs" transform="translate(2330.8 1036.3)">VIEW B</text>
<line class="n" x1="2383.5" y1="1055.2" x2="2261.9" y2="1055.2"/>
<path class="ah" d="M2261.9,1055.2 L2275.9,1052.5 L2275.9,1057.9 Z"/>
<line class="n" x1="1197.4" y1="1087" x2="1197.4" y2="1245.8"/>
<line class="n" x1="1383.2" y1="1087" x2="1383.2" y2="1215.4"/>
<line class="n" x1="1744.8" y1="1087" x2="1744.8" y2="1245.8"/>
<line class="n" x1="1926" y1="1137.7" x2="1926" y2="1215.4"/>
<line class="n" x1="1383.2" y1="1208.6" x2="1744.8" y2="1208.6"/>
<path class="ah" d="M1383.2,1208.6 L1397.2,1205.9 L1397.2,1211.3 Z"/>
<path class="ah" d="M1744.8,1208.6 L1730.8,1211.3 L1730.8,1205.9 Z"/>
<text class="tx" x="0" y="11.4" font-size="31.6" text-anchor="middle" transform="translate(1565.7 1191.7) scale(0.87 1)">100</text>
<line class="n" x1="1744.8" y1="1208.6" x2="1926" y2="1208.6"/>
<path class="ah" d="M1744.8,1208.6 L1758.8,1205.9 L1758.8,1211.3 Z"/>
<path class="ah" d="M1926,1208.6 L1912,1211.3 L1912,1205.9 Z"/>
<text class="tx" x="0" y="11.4" font-size="31.6" text-anchor="middle" transform="translate(1839.4 1191.7) scale(0.87 1)">G</text>
<line class="n" x1="1197.4" y1="1240.4" x2="1744.8" y2="1240.4"/>
<path class="ah" d="M1197.4,1240.4 L1211.4,1237.7 L1211.4,1243.1 Z"/>
<path class="ah" d="M1744.8,1240.4 L1730.8,1243.1 L1730.8,1237.7 Z"/>
<text class="tx" x="0" y="11.4" font-size="31.6" text-anchor="middle" textLength="128.4" lengthAdjust="spacingAndGlyphs" transform="translate(1464.3 1223.5)">(n-1)x100</text>
<path class="m" d="M 540.5,976.6 L 756.1,976.6 L 756.1,1131.6 Q 756.1,1138.3 748.8,1138.3 L 547.8,1138.3 Q 540.5,1138.3 540.5,1131.6 Z"/>
<rect class="m" x="492.1" y="964.5" width="48.4" height="92"/>
<rect class="m" x="756.1" y="964.5" width="47.2" height="92"/>
<rect class="m" x="533.2" y="966.9" width="228.9" height="10.9"/>
<line class="n" x1="457" y1="976.6" x2="492.1" y2="976.6"/>
<line class="n" x1="568.4" y1="1056.5" x2="868.7" y2="1056.5"/>
<line class="n" x1="647.1" y1="995.9" x2="647.1" y2="1146.1"/>
<circle class="m" cx="647.1" cy="1056.5" r="50.9"/>
<circle class="d" cx="647.1" cy="1056.5" r="75.1"/>
<circle class="m" cx="647.1" cy="1056.5" r="30.3"/>
<circle class="m" cx="647.1" cy="1056.5" r="9.7"/>
<circle class="n" cx="647.1" cy="1056.5" r="3.6"/>
<circle class="m" cx="590.2" cy="1004.4" r="6.1"/>
<circle class="m" cx="584.1" cy="1018.9" r="4.4"/>
<circle class="m" cx="699.1" cy="1003.2" r="6.1"/>
<circle class="m" cx="710" cy="1018.9" r="4.4"/>
<circle class="m" cx="585.3" cy="1090.4" r="4.4"/>
<circle class="m" cx="596.2" cy="1107.3" r="6.1"/>
<circle class="m" cx="710" cy="1090.4" r="4.4"/>
<circle class="m" cx="699.1" cy="1107.3" r="6.1"/>
<circle class="m" cx="551.4" cy="1078.3" r="5.3"/>
<circle class="m" cx="551.4" cy="1121.9" r="5.3"/>
<circle class="m" cx="741.5" cy="1077.1" r="5.3"/>
<circle class="m" cx="741.5" cy="1123.1" r="5.3"/>
<line class="n" x1="484.8" y1="1138.3" x2="540.5" y2="1138.3"/>
<line class="n" x1="459.4" y1="976.6" x2="459.4" y2="1138.3"/>
<path class="ah" d="M459.4,976.6 L462.1,990.6 L456.7,990.6 Z"/>
<path class="ah" d="M459.4,1138.3 L456.7,1124.3 L462.1,1124.3 Z"/>
<text class="tx" x="0" y="11.4" font-size="31.6" text-anchor="middle" transform="translate(447.3 1056.5) rotate(-90) scale(0.87 1)">44.5</text>
<line class="n" x1="487.2" y1="1117" x2="487.2" y2="1138.3"/>
<path class="ah" d="M487.2,1138.3 L484.5,1124.3 L489.9,1124.3 Z"/>
<line class="n" x1="487.2" y1="1138.3" x2="487.2" y2="1172.7"/>
<text class="tx" x="0" y="11.4" font-size="31.6" text-anchor="middle" transform="translate(473.9 1089.2) rotate(-90) scale(0.87 1)">0.5</text>
<text class="tx" x="0" y="11.4" font-size="31.6" text-anchor="middle" textLength="220.4" lengthAdjust="spacingAndGlyphs" transform="translate(630.1 901.5)">4-M3x0.5Px8 DP</text>
<line class="n" x1="519.9" y1="914.8" x2="739.1" y2="914.8"/>
<line class="n" x1="739.1" y1="914.8" x2="716.1" y2="1010.5"/>
<path class="ah" d="M716.1,1010.5 L716.7,996.2 L722,997.5 Z"/>
<text class="tx" x="0" y="11.4" font-size="31.6" text-anchor="middle" textLength="94.5" lengthAdjust="spacingAndGlyphs" transform="translate(567.1 934.2)">PCD 40</text>
<text class="tx" x="0" y="11.4" font-size="31.6" text-anchor="middle" textLength="220.4" lengthAdjust="spacingAndGlyphs" transform="translate(574.4 1186.1)">4-M4x0.7Px8 DP</text>
<line class="n" x1="464.2" y1="1199.4" x2="687" y2="1199.4"/>
<line class="n" x1="687" y1="1199.4" x2="696.7" y2="1119.5"/>
<path class="ah" d="M696.7,1119.5 L697.7,1133.7 L692.4,1133 Z"/>
<text class="tx" x="0" y="11.4" font-size="31.6" text-anchor="middle" textLength="94.5" lengthAdjust="spacingAndGlyphs" transform="translate(511.4 1218.8)">PCD 40</text>
<text class="tx" x="0" y="11.4" font-size="31.6" text-anchor="middle" textLength="94.5" lengthAdjust="spacingAndGlyphs" transform="translate(649.5 1240.5)">VIEW B</text>
<line class="n" x1="718.5" y1="983.8" x2="802.1" y2="901.5"/>
<line class="n" x1="704" y1="1114.6" x2="803.3" y2="1211.5"/>
<line class="n" x1="716.1" y1="1017.7" x2="814.2" y2="960.8"/>
<line class="n" x1="716.1" y1="1095.2" x2="814.2" y2="1152.2"/>
<path class="n" d="M802.1,901.5 A219.2,219.2 0 0 1 802.1,1211.5"/>
<path class="n" d="M812.8,960.8 A191.3,191.3 0 0 1 812.8,1152.2"/>
<text class="tx" x="0" y="11.4" font-size="31.6" text-anchor="middle" transform="translate(863.8 969.3) rotate(70) scale(0.87 1)">45°</text>
<text class="tx" x="0" y="11.4" font-size="31.6" text-anchor="middle" transform="translate(843.2 1012.9) rotate(80) scale(0.87 1)">30°</text>
<text class="tx" x="0" y="11.4" font-size="31.6" text-anchor="middle" transform="translate(817.8 1092.8) rotate(-80) scale(0.87 1)">30°</text>
<text class="tx" x="0" y="11.4" font-size="31.6" text-anchor="middle" transform="translate(837.2 1124.3) rotate(-70) scale(0.87 1)">45°</text>
</svg>
<table>
<colgroup><col style="width:265.5px"><col style="width:265.5px"><col style="width:265.5px"><col style="width:265.5px"><col style="width:265.5px"><col style="width:265.5px"><col style="width:265.5px"><col style="width:265.5px"><col style="width:265.5px"><col style="width:265.5px"></colgroup>
<tr class="h1"><th rowspan="2" class="r2">Track length<br><span style="font-size:46px;line-height:50px">L2(mm)</span></th><th rowspan="2" class="r2">Total length<br><span style="font-size:46px;line-height:50px">L1(mm)</span></th><th colspan="2" class="ms">Maximum stroke</th><th rowspan="2">G(mm)</th><th rowspan="2">K(mm)</th><th rowspan="2">n</th><th rowspan="2">m</th><th colspan="2" style="font-size:42px;letter-spacing:1px">Weight(kg)</th></tr>
<tr class="h2"><th>A1 slide</th><th>A2 slide</th><th>A1 slide</th><th>A2 slide</th></tr>
<tr><td>150</td><td>220</td><td>60</td><td>-</td><td>25</td><td>100</td><td>2</td><td>2</td><td>1.7</td><td>-</td></tr>
<tr class="g"><td>200</td><td>270</td><td>110</td><td>-</td><td>50</td><td>100</td><td>2</td><td>2</td><td>2.1</td><td>-</td></tr>
<tr><td>300</td><td>370</td><td>210</td><td>135</td><td>50</td><td>200</td><td>3</td><td>2</td><td>2.7</td><td>3.0</td></tr>
<tr class="g"><td>400</td><td>470</td><td>310</td><td>235</td><td>50</td><td>100</td><td>4</td><td>4</td><td>3.3</td><td>3.6</td></tr>
<tr><td>500</td><td>570</td><td>410</td><td>335</td><td>50</td><td>200</td><td>5</td><td>3</td><td>3.9</td><td>4.2</td></tr>
<tr class="g"><td>600</td><td>670</td><td>510</td><td>435</td><td>50</td><td>100</td><td>6</td><td>6</td><td>4.6</td><td>5.0</td></tr>
</table>
<div class="abs" id="note1">Note:</div>
<div class="abs" id="note2">The outside diameter of the shoulder can be specially made ϕ8.</div>
</body></html>
